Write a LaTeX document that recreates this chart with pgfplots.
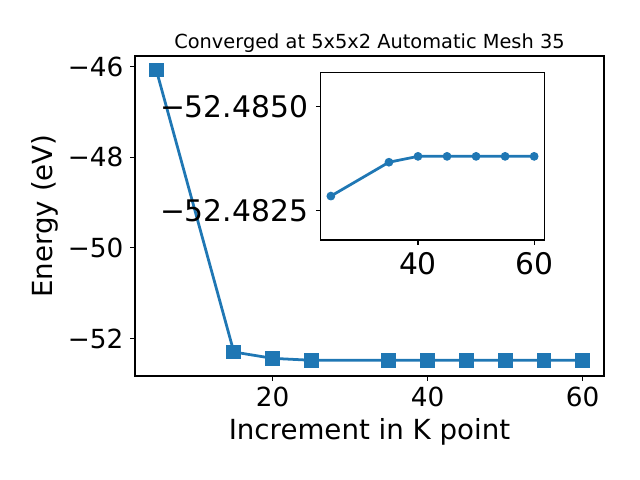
\documentclass[border=0pt]{standalone}
\usepackage{fontspec}
\setmainfont{DejaVu Sans}
\usepackage{pgfplots}
\pgfplotsset{compat=1.18}
\definecolor{mplblue}{HTML}{1F77B4}
% inset values differ only in the 4th/5th decimal: strip the common -52.48 part
% (input can arrive raw, -52.48xyz, or already parsed, 2Y5.248xyze1])
\def\insetstripraw-52.48#1\relax{#1}
\def\insetstripfpu2Y5.248#1e1]\relax{#1}
\def\insetoff#1#2\relax{\ifx-#1\insetstripraw#1#2\relax\else\insetstripfpu#1#2\relax\fi}

\begin{document}
\begin{tikzpicture}
\path[use as bounding box] (0,0) rectangle (6.4in,4.8in);
\pgfplotsset{
  mplstyle/.style={
    scale only axis,
    tick align=outside,
    major tick length=3.5pt,
    xtick pos=bottom, ytick pos=left,
    every tick/.style={black, line width=0.8pt},
    axis line style={line width=0.8pt},
    clip=false,
  },
}
\begin{axis}[
    mplstyle,
    at={(1.35in,1.04in)}, anchor=south west,
    width=4.69in, height=3.2in,
    xmin=2.25, xmax=62.75,
    ymin=-52.83, ymax=-45.76,
    xtick={20,40,60}, xticklabels={20,40,60},
    ytick={-52,-50,-48,-46}, yticklabels={−52,−50,−48,−46},
    ticklabel style={font=\fontsize{19}{22}\selectfont, inner sep=0pt},
    xticklabel style={anchor=north, yshift=-4.4pt},
    yticklabel style={anchor=east, xshift=-4.8pt},
    title={Converged at 5x5x2 Automatic Mesh 35},
    title style={font=\fontsize{14}{17}\selectfont, at={(axis description cs:0.5,0.999)}, anchor=base},
    xlabel={Increment in K point},
    xlabel style={font=\fontsize{20}{24}\selectfont, at={(axis description cs:0.5,-0.2)}, anchor=base},
    ylabel={Energy (eV)},
    ylabel style={font=\fontsize{20}{24}\selectfont, at={(axis description cs:-0.175,0.5)}, anchor=base},
]
    \addplot[mplblue, line width=2pt, mark=square*, mark size=5pt,
             mark options={solid, line width=0.7pt}] coordinates {
        (5,-46.07) (15,-52.30) (20,-52.44) (25,-52.48286) (35,-52.48367)
        (40,-52.48381) (45,-52.48381) (50,-52.48381) (55,-52.48381) (60,-52.48381)
    };
\end{axis}

\begin{axis}[
    mplstyle,
    at={(3.207in,2.40in)}, anchor=south west,
    width=2.236in, height=1.677in,
    xmin=23.25, xmax=61.75,
    xtick={40,60}, xticklabels={40,60},
    y dir=reverse,
    y coord trafo/.code={\edef\pgfmathresult{-\insetoff#1\relax}},
    ymin=-52.48582, ymax=-52.48181,
    ytick={-52.48501,-52.48251}, yticklabels={−52.4850,−52.4825},
    ticklabel style={font=\fontsize{21.5}{25}\selectfont, inner sep=0pt},
    xticklabel style={anchor=north, yshift=-5.4pt},
    yticklabel style={anchor=east, xshift=-5.5pt},
]
    \addplot[mplblue, line width=2pt, mark=*, mark size=2.8pt,
             mark options={solid, line width=0.7pt}] coordinates {
        (25,-52.48286) (35,-52.48367) (40,-52.48381) (45,-52.48381)
        (50,-52.48381) (55,-52.48381) (60,-52.48381)
    };
\end{axis}
\end{tikzpicture}
\end{document}
